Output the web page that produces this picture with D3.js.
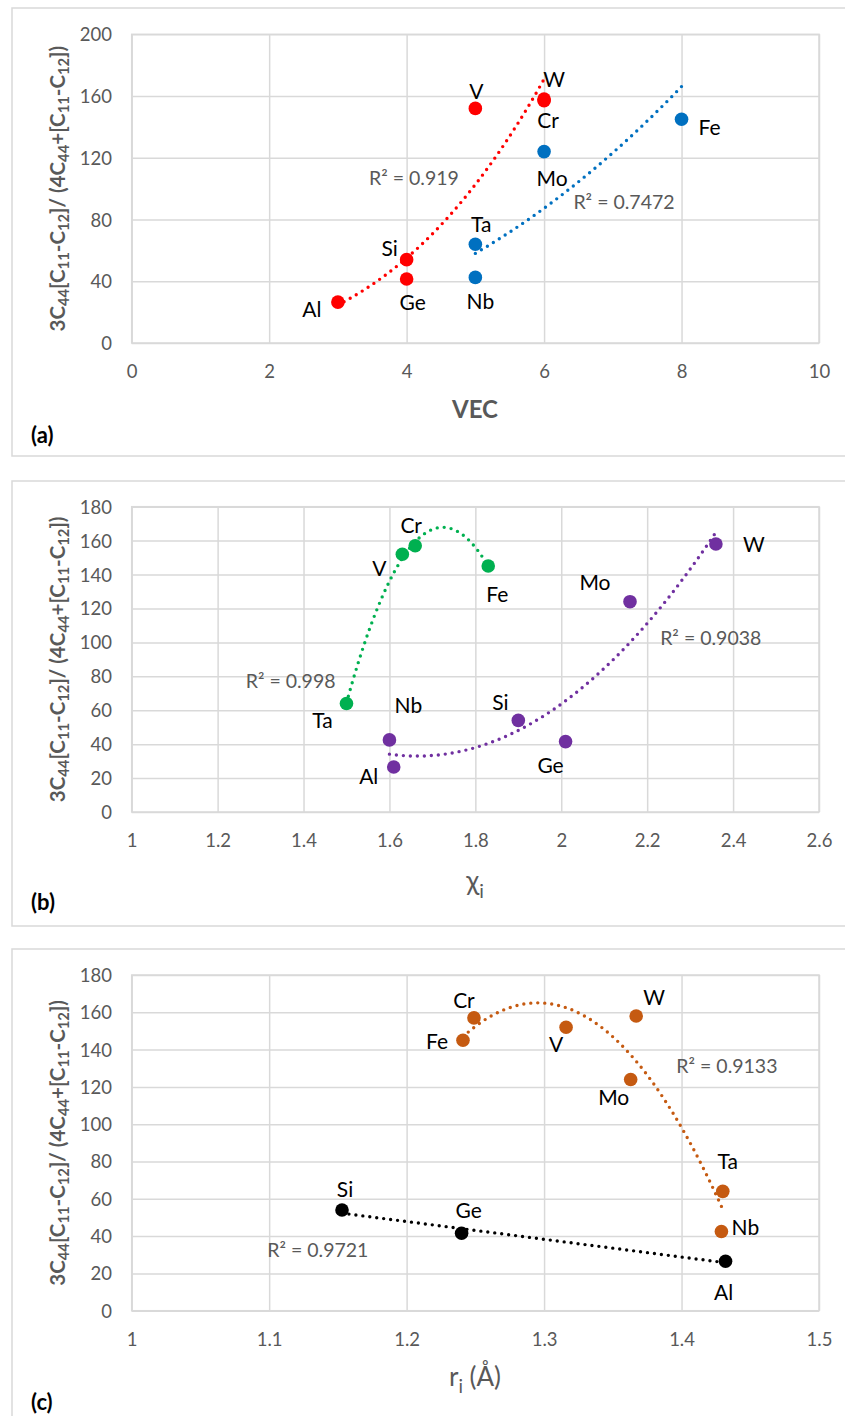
<!DOCTYPE html>
<html>
<head>
<meta charset="utf-8">
<script src="https://cdn.jsdelivr.net/npm/d3@7"></script>
<style>
  body { margin: 0; background: #fff; }
  svg { display: block; }
  text { font-family: Lato, "Open Sans", sans-serif; }
</style>
</head>
<body>
<svg id="chart" width="845" height="1416"></svg>
<script>
// ---------- data ----------
// (a) valence electron concentration
const aRedNames  = ['Al', 'Si', 'Ge', 'V', 'Cr', 'W'];
const aRedX      = [3, 4, 4, 5, 6, 6];
const aRedY      = [26.5, 54, 41.5, 152, 157, 158];
const aBlueNames = ['Ta', 'Nb', 'Mo', 'Fe'];
const aBlueX     = [5, 5, 6, 8];
const aBlueY     = [64, 42.5, 124, 145];

// (b) electronegativity
const bGreenNames  = ['Ta', 'V', 'Cr', 'Fe'];
const bGreenX      = [1.5, 1.63, 1.66, 1.83];
const bGreenY      = [64, 152, 157, 145];
const bPurpleNames = ['Nb', 'Al', 'Si', 'Ge', 'Mo', 'W'];
const bPurpleX     = [1.6, 1.61, 1.9, 2.01, 2.16, 2.36];
const bPurpleY     = [42.5, 26.5, 54, 41.5, 124, 158];

// (c) atomic radius
const cOrangeNames = ['Fe', 'Cr', 'V', 'W', 'Mo', 'Ta', 'Nb'];
const cOrangeX     = [1.241, 1.249, 1.316, 1.367, 1.363, 1.43, 1.429];
const cOrangeY     = [145, 157, 152, 158, 124, 64, 42.5];
const cBlackNames  = ['Si', 'Ge', 'Al'];
const cBlackX      = [1.153, 1.24, 1.432];
const cBlackY      = [54, 41.5, 26.5];

const aXTicks = [0, 2, 4, 6, 8, 10];
const aYTicks = [0, 40, 80, 120, 160, 200];
const bXTicks = [1, 1.2, 1.4, 1.6, 1.8, 2, 2.2, 2.4, 2.6];
const bYTicks = [0, 20, 40, 60, 80, 100, 120, 140, 160, 180];
const cXTicks = [1, 1.1, 1.2, 1.3, 1.4, 1.5];
const cYTicks = [0, 20, 40, 60, 80, 100, 120, 140, 160, 180];

const r2Labels = ['R² = 0.919', 'R² = 0.7472', 'R² = 0.998', 'R² = 0.9038', 'R² = 0.9133', 'R² = 0.9721'];

// ---------- label placement (px offsets from the point: centre x, baseline y) ----------
const shiftA = { Al: [-26, 15], Si: [-17, -4], Ge: [6, 31], V: [1, -9], W: [10, -12], Cr: [4, 27],
                 Ta: [6, -12], Nb: [5, 32], Mo: [8, 34], Fe: [28, 16] };
const shiftB = { Cr: [-4, -13], V: [-23, 22], Fe: [9, 36], Ta: [-24, 25], Nb: [19, -27], Al: [-25, 17],
                 Si: [-18, -10], Ge: [-15, 31], Mo: [-35, -12], W: [38, 8] };
const shiftC = { Cr: [-10, -10], Fe: [-26, 9], V: [-10, 25], W: [18, -11], Mo: [-17, 26], Ta: [5, -22],
                 Nb: [24, 4], Al: [-2, 39], Si: [3, -13], Ge: [7, -15] };
// R² text positions in data units (centre, baseline)
const r2PosA = [[4.107, 102.4], [7.163, 86.8]];
const r2PosB = [[1.370, 73.2], [2.348, 98.6]];
const r2PosC = [[1.433, 127.3], [1.1354, 28.8]];

const GRAY = '#595959', GRID = '#d9d9d9';
const svg = d3.select('#chart');

// ---------- fitting (same trendline types as the original: power / polynomial / linear) ----------
function solve(A, b) {
  const n = b.length;
  for (let i = 0; i < n; i++) {
    let p = i;
    for (let k = i + 1; k < n; k++) if (Math.abs(A[k][i]) > Math.abs(A[p][i])) p = k;
    [A[i], A[p]] = [A[p], A[i]]; [b[i], b[p]] = [b[p], b[i]];
    for (let k = i + 1; k < n; k++) {
      const f = A[k][i] / A[i][i];
      for (let j = i; j < n; j++) A[k][j] -= f * A[i][j];
      b[k] -= f * b[i];
    }
  }
  const c = new Array(n).fill(0);
  for (let i = n - 1; i >= 0; i--) {
    let s = b[i];
    for (let j = i + 1; j < n; j++) s -= A[i][j] * c[j];
    c[i] = s / A[i][i];
  }
  return c;
}

function fitPoly(xs, ys, order) {
  const n = order + 1;
  const A = d3.range(n).map(() => new Array(n).fill(0));
  const b = new Array(n).fill(0);
  xs.forEach((x, k) => {
    for (let i = 0; i < n; i++) {
      b[i] += ys[k] * x ** i;
      for (let j = 0; j < n; j++) A[i][j] += x ** (i + j);
    }
  });
  const c = solve(A, b);
  return x => c.reduce((s, ci, i) => s + ci * x ** i, 0);
}

function fitPower(xs, ys) {
  const lin = fitPoly(xs.map(Math.log), ys.map(Math.log), 1);
  return x => Math.exp(lin(Math.log(x)));
}

function fitTrend(type, xs, ys) {
  if (type === 'power') return fitPower(xs, ys);
  if (type === 'poly2') return fitPoly(xs, ys, 2);
  return fitPoly(xs, ys, 1);
}

// ---------- helpers ----------
function richText(sel, parts, size) {
  const shift = size * 0.28;
  let down = false;
  parts.forEach(([s, sub]) => {
    const t = sel.append('tspan').text(s);
    if (sub && !down) { t.attr('font-size', size * 0.72).attr('dy', shift); down = true; }
    else if (sub) t.attr('font-size', size * 0.72);
    else if (down) { t.attr('dy', -shift); down = false; }
  });
}

const yTitleParts = [['3C', 0], ['44', 1], ['[C', 0], ['11', 1], ['-C', 0], ['12', 1], [']/ (4C', 0], ['44', 1],
                     ['+[C', 0], ['11', 1], ['-C', 0], ['12', 1], ['])', 0]];

function drawPanel(p) {
  const g = svg.append('g');
  g.append('rect').attr('x', p.box[0]).attr('y', p.box[1])
    .attr('width', p.box[2] - p.box[0]).attr('height', p.box[3] - p.box[1])
    .attr('fill', 'none').attr('stroke', GRID).attr('stroke-width', 1.5);

  const [x0, y0, x1, y1] = p.plot;
  const x = d3.scaleLinear().domain(d3.extent(p.xTicks)).range([x0, x1]);
  const y = d3.scaleLinear().domain(d3.extent(p.yTicks)).range([y1, y0]);

  const gx = g.append('g').attr('transform', `translate(0,${y1})`)
    .call(d3.axisBottom(x).tickValues(p.xTicks).tickSize(-(y1 - y0)).tickFormat(d => String(d)));
  const gy = g.append('g').attr('transform', `translate(${x0},0)`)
    .call(d3.axisLeft(y).tickValues(p.yTicks).tickSize(-(x1 - x0)).tickFormat(d => String(d)));
  [gx, gy].forEach(a => {
    a.select('.domain').remove();
    a.selectAll('line').attr('stroke', GRID).attr('stroke-width', 1.5);
    a.selectAll('text').attr('fill', GRAY).attr('font-size', 18.5).attr('font-family', 'Lato, sans-serif');
  });
  gx.selectAll('text').attr('y', 29).attr('dy', '0.35em');
  gy.selectAll('text').attr('x', 112 - x0).attr('dy', '0.35em');
  g.append('rect').attr('x', x0).attr('y', y0).attr('width', x1 - x0).attr('height', y1 - y0)
    .attr('fill', 'none').attr('stroke', GRID).attr('stroke-width', 1.5);

  // y title
  const yt = g.append('text')
    .attr('transform', `translate(57,${(y0 + y1) / 2}) rotate(-90)`)
    .attr('text-anchor', 'middle').attr('dominant-baseline', 'central')
    .attr('font-weight', 'bold').attr('font-size', 20.5).attr('fill', GRAY);
  richText(yt, yTitleParts, 20.5);

  // x title
  const xt = g.append('text').attr('x', 475).attr('y', p.xTitleY).attr('text-anchor', 'middle')
    .attr('fill', GRAY).attr('font-size', p.xTitleSize).attr('font-weight', p.xTitleBold ? 'bold' : 'normal');
  richText(xt, p.xTitle, p.xTitleSize);

  // panel letter
  g.append('text').attr('x', 31).attr('y', p.letterY).attr('font-weight', 'bold')
    .attr('font-size', 22).attr('fill', '#000').text(p.letter);

  // trendlines
  const line = d3.line().x(d => x(d[0])).y(d => y(d[1]));
  p.series.forEach(s => {
    const f = fitTrend(s.trend, s.xs, s.ys);
    const [lo, hi] = d3.extent(s.xs);
    const pts = d3.range(0, 101).map(i => { const v = lo + (hi - lo) * i / 100; return [v, f(v)]; });
    g.append('path').attr('d', line(pts)).attr('fill', 'none').attr('stroke', s.color)
      .attr('stroke-width', 3.4).attr('stroke-linecap', 'round').attr('stroke-dasharray', '0 7');
    g.append('text').attr('x', x(s.r2Pos[0])).attr('y', y(s.r2Pos[1])).attr('text-anchor', 'middle')
      .attr('fill', GRAY).attr('font-size', 19.5).text(s.r2Text);
  });

  // points and element labels
  p.series.forEach(s => {
    g.selectAll(null).data(s.xs.map((v, i) => ({ x: v, y: s.ys[i], n: s.names[i] })))
      .join('circle').attr('cx', d => x(d.x)).attr('cy', d => y(d.y)).attr('r', 6.8).attr('fill', s.color);
  });
  p.series.forEach(s => {
    g.selectAll(null).data(s.xs.map((v, i) => ({ x: v, y: s.ys[i], n: s.names[i] })))
      .join('text').attr('x', d => x(d.x) + p.shift[d.n][0]).attr('y', d => y(d.y) + p.shift[d.n][1])
      .attr('text-anchor', 'middle').attr('font-size', 21).attr('fill', '#000').text(d => d.n);
  });
}

const panels = [
  { box: [12, 8, 847, 456], plot: [131.7, 34.3, 819, 343], xTicks: aXTicks, yTicks: aYTicks,
    xTitle: [['VEC', 0]], xTitleY: 418, xTitleSize: 24, xTitleBold: true,
    letter: '(a)', letterY: 443, shift: shiftA,
    series: [
      { names: aRedNames, xs: aRedX, ys: aRedY, color: '#ff0000', trend: 'power', r2Text: r2Labels[0], r2Pos: r2PosA[0] },
      { names: aBlueNames, xs: aBlueX, ys: aBlueY, color: '#0070c0', trend: 'power', r2Text: r2Labels[1], r2Pos: r2PosA[1] }
    ] },
  { box: [12, 481, 847, 926], plot: [131.7, 506.7, 819, 812], xTicks: bXTicks, yTicks: bYTicks,
    xTitle: [['χ', 0], ['i', 1]], xTitleY: 890, xTitleSize: 27, xTitleBold: false,
    letter: '(b)', letterY: 910, shift: shiftB,
    series: [
      { names: bGreenNames, xs: bGreenX, ys: bGreenY, color: '#00b050', trend: 'poly2', r2Text: r2Labels[2], r2Pos: r2PosB[0] },
      { names: bPurpleNames, xs: bPurpleX, ys: bPurpleY, color: '#7030a0', trend: 'poly2', r2Text: r2Labels[3], r2Pos: r2PosB[1] }
    ] },
  { box: [12, 949, 847, 1430], plot: [131.7, 975, 819, 1310.7], xTicks: cXTicks, yTicks: cYTicks,
    xTitle: [['r', 0], ['i', 1], [' (Å)', 0]], xTitleY: 1386, xTitleSize: 26, xTitleBold: false,
    letter: '(c)', letterY: 1410, shift: shiftC,
    series: [
      { names: cOrangeNames, xs: cOrangeX, ys: cOrangeY, color: '#c55a11', trend: 'poly2', r2Text: r2Labels[4], r2Pos: r2PosC[0] },
      { names: cBlackNames, xs: cBlackX, ys: cBlackY, color: '#000000', trend: 'linear', r2Text: r2Labels[5], r2Pos: r2PosC[1] }
    ] }
];
panels.forEach(drawPanel);
</script>
</body>
</html>
